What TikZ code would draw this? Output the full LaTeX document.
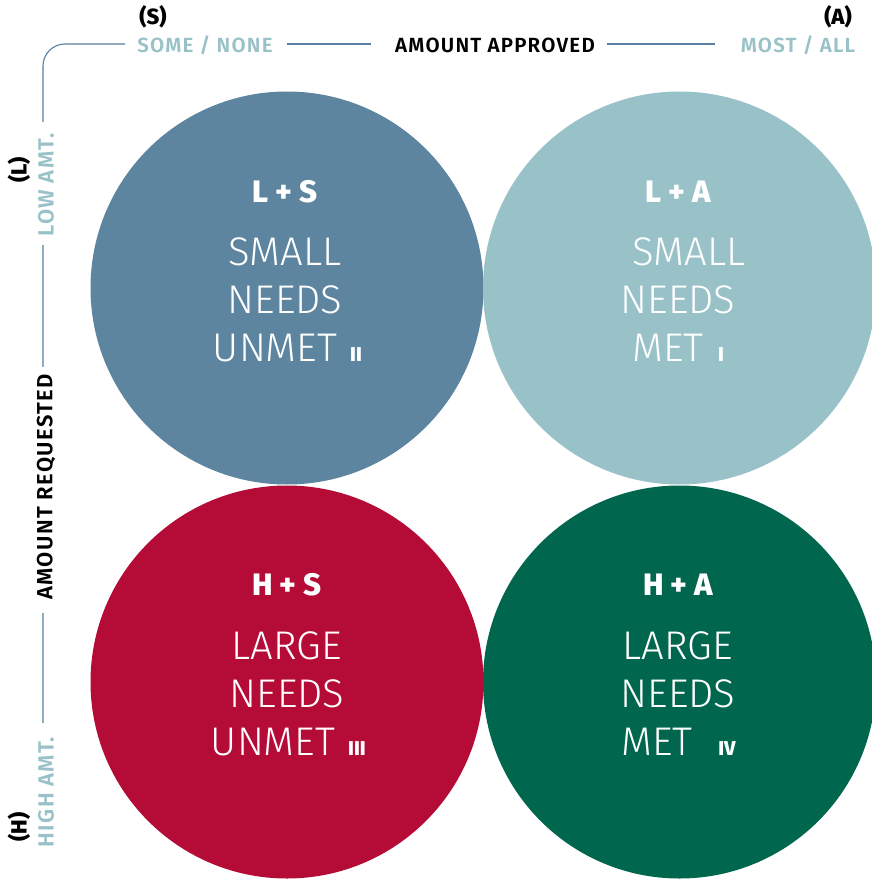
\documentclass[tikz,border=0pt]{standalone}
\usepackage{fontspec}
\setmainfont{Fira Sans}
\newfontfamily\lightf{Fira Sans Light}
\newfontfamily\semif{Fira Sans SemiBold}[LetterSpace=6]
\newfontfamily\boldf{Fira Sans Bold}
\newfontfamily\heavyf{Fira Sans ExtraBold}
\definecolor{cLS}{HTML}{5E859F}
\definecolor{cLA}{HTML}{99C2C8}
\definecolor{cHS}{HTML}{B50B37}
\definecolor{cHA}{HTML}{00664E}
\definecolor{topline}{HTML}{5A7FA0}
\definecolor{leftline}{HTML}{8FAFC0}
\definecolor{lighttxt}{HTML}{99C2C8}
\tikzset{
  bubble/.style={circle, minimum size=393pt, inner sep=0pt, draw=none},
  bigtxt/.style={anchor=base, text=white, inner sep=0pt, font=\lightf\fontsize{40}{48}\selectfont},
  headtxt/.style={anchor=base, text=white, inner sep=0pt, font=\heavyf\fontsize{31}{34}\selectfont},
  numtxt/.style={anchor=base, text=white, inner sep=0pt, font=\heavyf\fontsize{20}{22}\selectfont},
  axislight/.style={inner sep=0pt, text=lighttxt, font=\semif\fontsize{20.5}{24}\selectfont},
  axisdark/.style={inner sep=0pt, text=black, font=\semif\fontsize{20.5}{24}\selectfont},
  vlight/.style={inner sep=0pt, text=lighttxt, font=\semif\fontsize{22}{24}\selectfont},
  vdark/.style={inner sep=0pt, text=black, font=\semif\fontsize{22}{24}\selectfont},
  letter/.style={inner sep=0pt, text=black, font=\heavyf\fontsize{22}{24}\selectfont},
  tline/.style={draw=topline, line width=1.1pt},
  lline/.style={draw=leftline, line width=1.4pt},
}
\begin{document}
\begin{tikzpicture}[x=1pt,y=-1pt]
\useasboundingbox (0,0) rectangle (871,880);
% circles
\node[bubble, fill=cLS] (ls) at (287,288) {};
\node[bubble, fill=cLA] (la) at (679.5,288) {};
\node[bubble, fill=cHS] (hs) at (287,682) {};
\node[bubble, fill=cHA] (ha) at (679.5,682) {};
% L+S
\node[headtxt] (lsh) at (285,202) {L + S};
\node[bigtxt] (ls1) at (285,265) {SMALL};
\node[bigtxt] (ls2) at (285,313) {NEEDS};
\node[bigtxt] (ls3) at (275,361) {UNMET};
\node[numtxt] (ls4) at (356,361) {II};
% L+A
\node[headtxt] (lah) at (678,202) {L + A};
\node[bigtxt] (la1) at (689,265) {SMALL};
\node[bigtxt] (la2) at (678,313) {NEEDS};
\node[bigtxt] (la3) at (668,361) {MET};
\node[numtxt] (la4) at (721,361) {I};
% H+S
\node[headtxt] (hsh) at (287,595) {H + S};
\node[bigtxt] (hs1) at (287,659) {LARGE};
\node[bigtxt] (hs2) at (287,707) {NEEDS};
\node[bigtxt] (hs3) at (273,755) {UNMET};
\node[numtxt] (hs4) at (357,755) {III};
% H+A
\node[headtxt] (hah) at (678,595) {H + A};
\node[bigtxt] (ha1) at (678,659) {LARGE};
\node[bigtxt] (ha2) at (678,707) {NEEDS};
\node[bigtxt] (ha3) at (657,755) {MET};
\node[numtxt] (ha4) at (727,755) {IV};
% top axis
\node[letter, anchor=base] (s) at (153,25) {(S)};
\node[letter, anchor=base] (a) at (838,25) {(A)};
\node[axislight, anchor=base] (some) at (205,53) {SOME / NONE};
\node[axisdark, anchor=base] (appr) at (495,53) {AMOUNT APPROVED};
\node[axislight, anchor=base] (most) at (798,53) {MOST / ALL};
\coordinate (c0) at (43,122);
\coordinate (c1) at (43,44);
\coordinate (c2) at (125,44);
\coordinate (c3) at (287,44);
\coordinate (c4) at (371,44);
\coordinate (c5) at (607,44);
\coordinate (c6) at (715,44);
\draw[tline, rounded corners=22pt] (c0) -- (c1) -- (c2);
\draw[tline] (c3) -- (c4);
\draw[tline] (c5) -- (c6);
% left axis
\node[letter, rotate=90] (l) at (19,170) {(L)};
\node[letter, rotate=90] (h) at (19,827) {(H)};
\node[vlight, rotate=90] (low) at (46,185) {LOW AMT.};
\node[vdark, rotate=90] (req) at (46,487) {AMOUNT REQUESTED};
\node[vlight, rotate=90] (high) at (46,792) {HIGH AMT.};
\coordinate (d0) at (43,245);
\coordinate (d1) at (43,367);
\coordinate (d2) at (43,613);
\coordinate (d3) at (43,723);
\draw[lline] (d0) -- (d1);
\draw[lline] (d2) -- (d3);
\end{tikzpicture}
\end{document}
